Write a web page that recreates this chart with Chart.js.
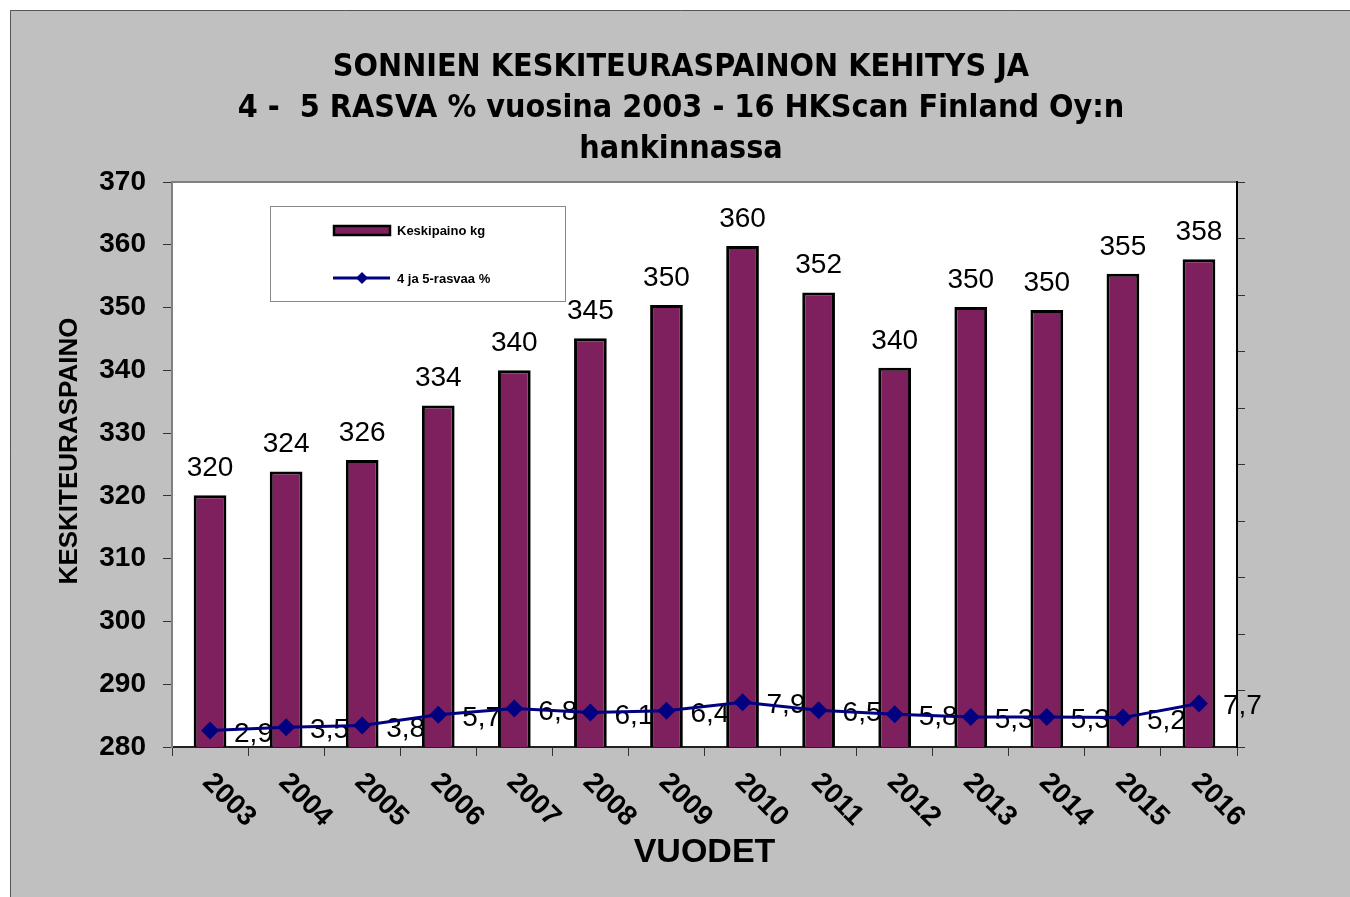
<!DOCTYPE html>
<html>
<head>
<meta charset="utf-8">
<script src="https://cdn.jsdelivr.net/npm/chart.js@4/dist/chart.umd.min.js"></script>
<style>
  html,body{margin:0;padding:0;background:#fff;}
  #wrap{width:1350px;height:897px;position:relative;}
</style>
</head>
<body>
<div id="wrap"><canvas id="c" width="1350" height="897"></canvas></div>
<script>
'use strict';

// ── data ──
var years = ['2003','2004','2005','2006','2007','2008','2009','2010','2011','2012','2013','2014','2015','2016'];
var avgWeight = [320.1, 323.9, 325.7, 334.4, 340.0, 345.1, 350.4, 359.8, 352.4, 340.4, 350.1, 349.6, 355.4, 357.7];
var fatPct = [2.9, 3.5, 3.8, 5.7, 6.8, 6.1, 6.4, 7.9, 6.5, 5.8, 5.3, 5.3, 5.2, 7.7];
var titleLines = ['SONNIEN KESKITEURASPAINON KEHITYS JA', '4 -  5 RASVA % vuosina 2003 - 16 HKScan Finland Oy:n', 'hankinnassa'];

var ARIAL = "'Liberation Sans', Arial, sans-serif";
var TITLEF = "'DejaVu Sans Condensed', 'DejaVu Sans', sans-serif";
var BAR_C = '#7e1f5e';
var LINE_C = '#000080';

// ── drawing helpers (frame, texts, legend) ──
var framePlugin = {
  id: 'frame',
  beforeDraw: function(chart){
    var c = chart.ctx, a = chart.chartArea;
    c.save();
    c.fillStyle = '#ffffff';
    c.fillRect(0, 0, chart.width, chart.height);
    c.fillStyle = '#c0c0c0';
    c.fillRect(10, 10, chart.width - 10, chart.height - 10);
    c.strokeStyle = '#555';
    c.lineWidth = 1;
    c.beginPath();
    c.moveTo(10.5, chart.height); c.lineTo(10.5, 10.5); c.lineTo(chart.width, 10.5);
    c.stroke();
    // plot area
    c.fillStyle = '#ffffff';
    c.fillRect(a.left, a.top, a.right - a.left, a.bottom - a.top);
    c.strokeStyle = '#808080';
    c.lineWidth = 2;
    c.beginPath();
    c.moveTo(a.left, a.top); c.lineTo(a.right, a.top);
    c.stroke();
    c.restore();
  },
  beforeDatasetsDraw: function(chart){
    // line value labels sit behind the bars
    var c = chart.ctx;
    var meta = chart.getDatasetMeta(0);
    c.save();
    c.fillStyle = '#000';
    c.font = '28px ' + ARIAL;
    c.textAlign = 'left';
    c.textBaseline = 'alphabetic';
    meta.data.forEach(function(p, i){
      c.fillText(String(fatPct[i]).replace('.', ','), p.x + 24, p.y + 11);
    });
    c.restore();
  },
  afterDatasetsDraw: function(chart){
    var c = chart.ctx;
    var meta = chart.getDatasetMeta(1);
    c.save();
    c.fillStyle = '#000';
    c.font = '28px ' + ARIAL;
    c.textAlign = 'center';
    c.textBaseline = 'alphabetic';
    meta.data.forEach(function(b, i){
      c.fillText(String(Math.round(avgWeight[i])), b.x, b.y - 19);
    });
    c.restore();
  },
  afterDraw: function(chart){
    var c = chart.ctx, a = chart.chartArea;
    var xs = chart.scales.x;
    c.save();
    c.fillStyle = '#000';

    // title
    c.font = 'bold 32px ' + TITLEF;
    c.textAlign = 'center';
    c.textBaseline = 'middle';
    titleLines.forEach(function(t, i){ c.fillText(t, 681, 68 + i * 41); });

    // x tick labels, rotated clockwise
    c.font = 'bold 28px ' + ARIAL;
    c.textAlign = 'left';
    years.forEach(function(y, i){
      var x = xs.getPixelForValue(i);
      c.save();
      c.translate(x - 3, a.bottom + 31);
      c.rotate(Math.PI / 4);
      c.fillText(y, 0, 0);
      c.restore();
    });

    // axis titles
    c.textAlign = 'center';
    c.font = 'bold 34px ' + ARIAL;
    c.fillText('VUODET', (a.left + a.right) / 2, 853);
    c.save();
    c.translate(70, 451);
    c.rotate(-Math.PI / 2);
    c.font = 'bold 26px ' + ARIAL;
    c.fillText('KESKITEURASPAINO', 0, 0);
    c.restore();

    // legend
    var ds = chart.data.datasets;
    c.fillStyle = '#fff';
    c.fillRect(270.5, 206.5, 295, 95);
    c.strokeStyle = '#888';
    c.lineWidth = 1;
    c.strokeRect(270.5, 206.5, 295, 95);
    c.fillStyle = BAR_C;
    c.fillRect(334, 226, 56, 9);
    c.strokeStyle = '#000';
    c.lineWidth = 2.5;
    c.strokeRect(334, 226, 56, 9);
    c.strokeStyle = LINE_C;
    c.lineWidth = 3;
    c.beginPath(); c.moveTo(333, 278); c.lineTo(390, 278); c.stroke();
    c.fillStyle = LINE_C;
    c.beginPath(); c.moveTo(362, 272); c.lineTo(368, 278); c.lineTo(362, 284); c.lineTo(356, 278); c.closePath(); c.fill();
    c.fillStyle = '#000';
    c.font = 'bold 13px ' + ARIAL;
    c.textAlign = 'left';
    c.fillText(ds[1].label, 397, 231);
    c.fillText(ds[0].label, 397, 279);
    c.restore();
  }
};

new Chart(document.getElementById('c'), {
  data: {
    labels: years,
    datasets: [
      {
        type: 'line', label: '4 ja 5-rasvaa %', data: fatPct, yAxisID: 'y2',
        borderColor: LINE_C, backgroundColor: LINE_C, borderWidth: 3,
        pointStyle: 'rectRot', pointRadius: 9, pointBorderWidth: 0,
        tension: 0, order: 0
      },
      {
        type: 'bar', label: 'Keskipaino kg', data: avgWeight, yAxisID: 'y',
        backgroundColor: BAR_C, borderColor: '#000', borderWidth: 3,
        borderSkipped: false, barPercentage: 0.43, categoryPercentage: 1, order: 1
      }
    ]
  },
  options: {
    responsive: false,
    animation: false,
    devicePixelRatio: 1,
    layout: { padding: { left: 10, top: 182, right: 0, bottom: 0 } },
    plugins: { legend: { display: false }, tooltip: { enabled: false }, title: { display: false } },
    scales: {
      x: {
        offset: true,
        grid: { offset: true, drawOnChartArea: false, tickLength: 9, color: '#333', lineWidth: 1 },
        border: { color: '#222', width: 2 },
        ticks: { display: false },
        afterFit: function(s){ s.height = 150; }
      },
      y: {
        position: 'left', min: 280, max: 370,
        ticks: { stepSize: 10, color: '#000', padding: 17, font: { family: ARIAL, size: 28, weight: 'bold' } },
        grid: { drawOnChartArea: false, tickLength: 9, color: '#333' },
        border: { color: '#808080', width: 2 },
        afterFit: function(s){ s.width = 162; }
      },
      y2: {
        position: 'right', min: 0, max: 100,
        ticks: { stepSize: 10, display: false },
        grid: { drawOnChartArea: false, tickLength: 8, color: '#333' },
        border: { color: '#000', width: 2 },
        afterFit: function(s){ s.width = 113; }
      }
    }
  },
  plugins: [framePlugin]
});
</script>
</body>
</html>
